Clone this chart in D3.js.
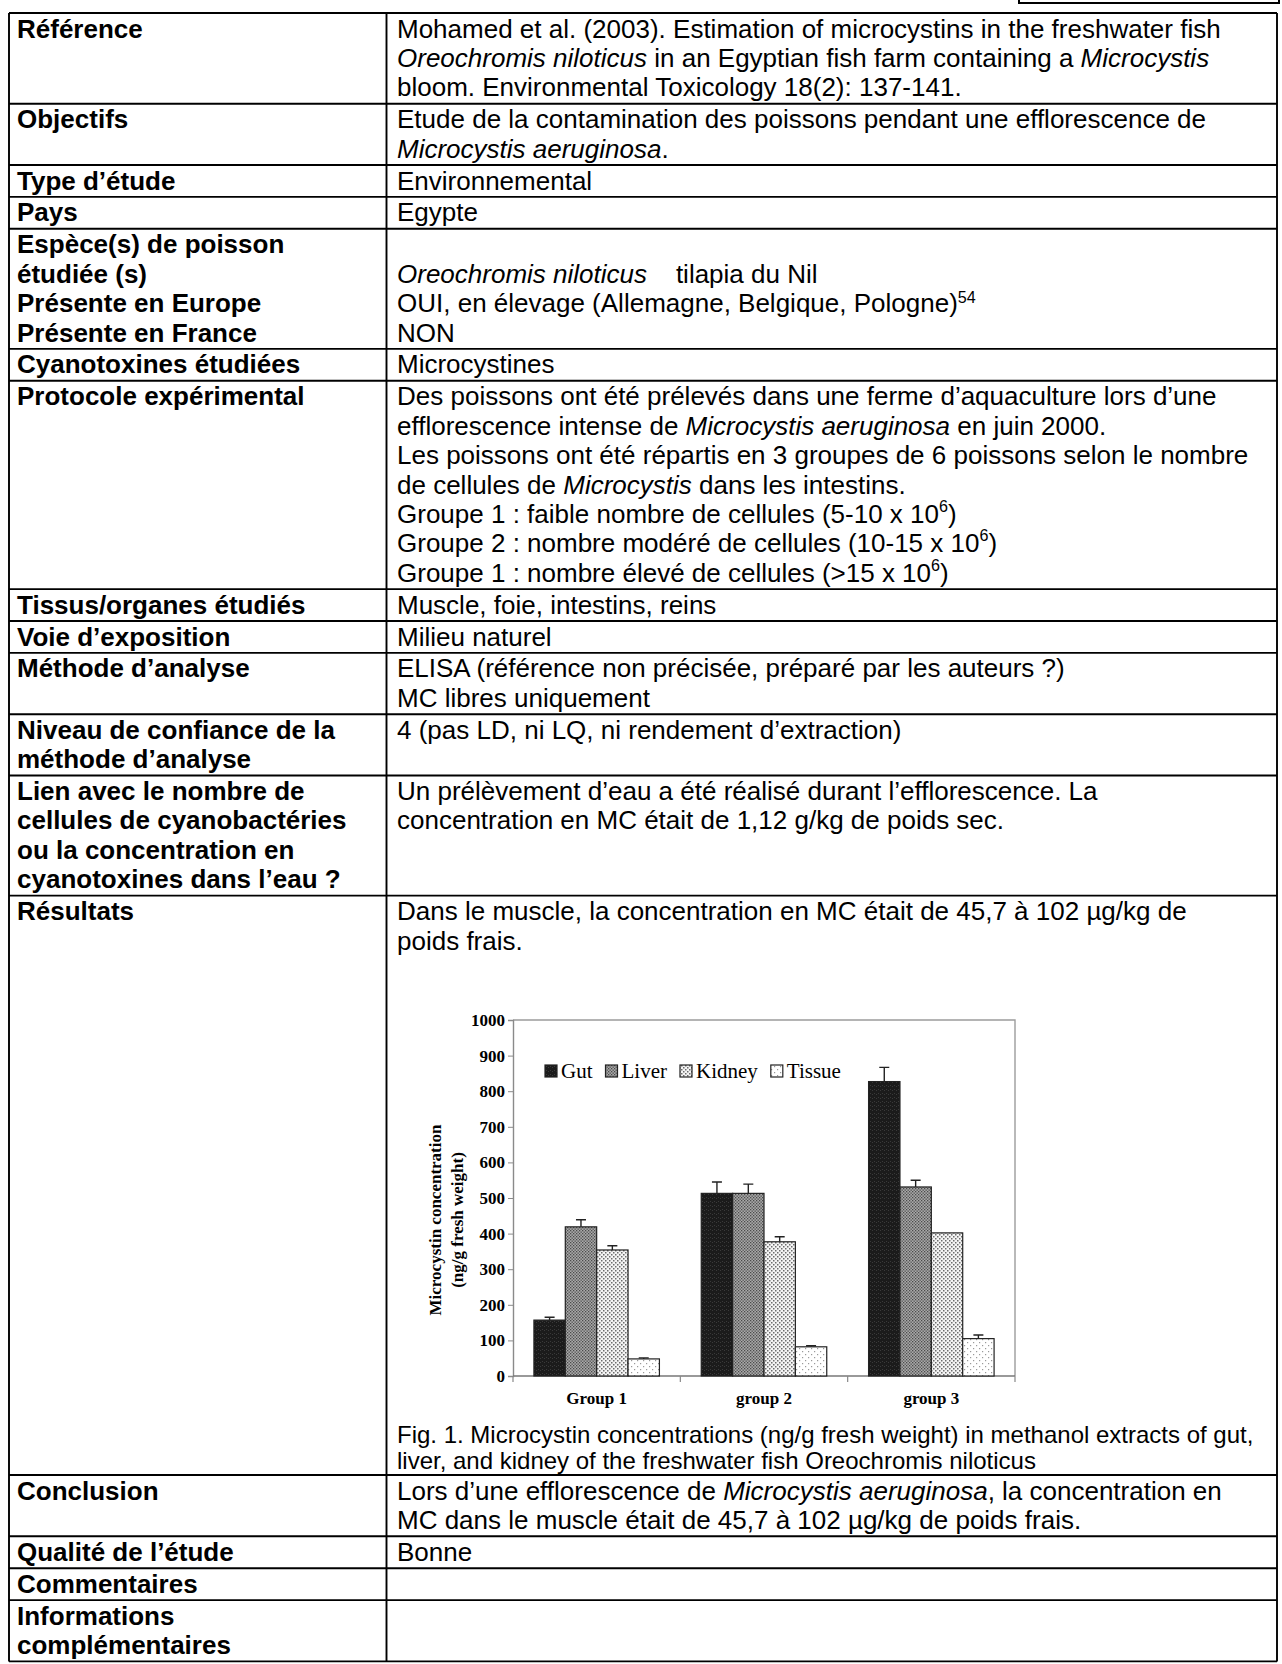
<!DOCTYPE html>
<html>
<head>
<meta charset="utf-8">
<script src="https://cdn.jsdelivr.net/npm/d3@7"></script>
<style>
  body { margin: 0; background: #fff; }
  text { font-family: "Liberation Sans", Arial, sans-serif; fill: #000; }
  .serif text, text.serif { font-family: "Liberation Serif", "Times New Roman", serif; }
</style>
</head>
<body>
<div id="page"></div>
<script>
// ---- table text ----
const rowLabels = [
  ["Référence"],
  ["Objectifs"],
  ["Type d’étude"],
  ["Pays"],
  ["Espèce(s) de poisson", "étudiée (s)", "Présente en Europe", "Présente en France"],
  ["Cyanotoxines étudiées"],
  ["Protocole expérimental"],
  ["Tissus/organes étudiés"],
  ["Voie d’exposition"],
  ["Méthode d’analyse"],
  ["Niveau de confiance de la", "méthode d’analyse"],
  ["Lien avec le nombre de", "cellules de cyanobactéries", "ou la concentration en", "cyanotoxines dans l’eau ?"],
  ["Résultats"],
  ["Conclusion"],
  ["Qualité de l’étude"],
  ["Commentaires"],
  ["Informations", "complémentaires"]
];

// _x_ = italic, ^x^ = superscript
const rowTexts = [
  ["Mohamed et al. (2003). Estimation of microcystins in the freshwater fish",
   "_Oreochromis niloticus_ in an Egyptian fish farm containing a _Microcystis_",
   "bloom. Environmental Toxicology 18(2): 137-141."],
  ["Etude de la contamination des poissons pendant une efflorescence de",
   "_Microcystis aeruginosa_."],
  ["Environnemental"],
  ["Egypte"],
  ["", "_Oreochromis niloticus_    tilapia du Nil",
   "OUI, en élevage (Allemagne, Belgique, Pologne)^54^", "NON"],
  ["Microcystines"],
  ["Des poissons ont été prélevés dans une ferme d’aquaculture lors d’une",
   "efflorescence intense de _Microcystis aeruginosa_ en juin 2000.",
   "Les poissons ont été répartis en 3 groupes de 6 poissons selon le nombre",
   "de cellules de _Microcystis_ dans les intestins.",
   "Groupe 1 : faible nombre de cellules (5-10 x 10^6^)",
   "Groupe 2 : nombre modéré de cellules (10-15 x 10^6^)",
   "Groupe 1 : nombre élevé de cellules (>15 x 10^6^)"],
  ["Muscle, foie, intestins, reins"],
  ["Milieu naturel"],
  ["ELISA (référence non précisée, préparé par les auteurs ?)", "MC libres uniquement"],
  ["4 (pas LD, ni LQ, ni rendement d’extraction)"],
  ["Un prélèvement d’eau a été réalisé durant l’efflorescence. La",
   "concentration en MC était de 1,12 g/kg de poids sec."],
  ["Dans le muscle, la concentration en MC était de 45,7 à 102 µg/kg de",
   "poids frais."],
  ["Lors d’une efflorescence de _Microcystis aeruginosa_, la concentration en",
   "MC dans le muscle était de 45,7 à 102 µg/kg de poids frais."],
  ["Bonne"],
  [""],
  [""]
];

const rowSizes = [3, 2, 1, 1, 4, 1, 7, 1, 1, 2, 2, 4, 2, 2, 1, 1, 2];
const resultsRow = 12;

const captionLines = [
  "Fig. 1. Microcystin concentrations (ng/g fresh weight) in methanol extracts of gut,",
  "liver, and kidney of the freshwater fish Oreochromis niloticus"
];

// ---- chart data ----
const groups = ["Group 1", "group 2", "group 3"];
const organs = ["Gut", "Liver", "Kidney", "Tissue"];
const gutValues = [157, 513, 827];
const liverValues = [419, 513, 531];
const kidneyValues = [354, 377, 402];
const tissueValues = [48, 82, 105];
const gutErrors = [8, 32, 40];
const liverErrors = [20, 26, 19];
const kidneyErrors = [12, 14, 0];
const tissueErrors = [3, 3, 10];
const yTicks = [0, 100, 200, 300, 400, 500, 600, 700, 800, 900, 1000];

// ---- layout ----
const W = 1282, H = 1664;
const TOP = 13, LINE = 29.4, PAD = 2.5, RESULT_H = 579.4, CHART_DY = 124.4;
const X0 = 9, XDIV = 386.5, X1 = 1277;
const FS = 26;

const svg = d3.select("#page")
    .append("svg")
    .attr("width", W)
    .attr("height", H);

function drawLine(g, x, y, str, size, bold) {
    let t = g.append("text")
        .attr("x", x)
        .attr("y", y)
        .attr("font-size", size)
        .attr("font-weight", bold ? "bold" : "normal")
        .style("white-space", "pre");
    let raised = 0;
    str.split(/(_[^_]*_|\^[^^]*\^)/).filter(s => s.length).forEach(s => {
        let span = t.append("tspan");
        if (s[0] === "_") {
            span.text(s.slice(1, -1)).attr("font-style", "italic");
            if (raised) { span.attr("dy", raised); raised = 0; }
        } else if (s[0] === "^") {
            let up = s.length > 3 ? size * 0.36 : size * 0.42;
            span.text(s.slice(1, -1)).attr("font-size", size * 0.62).attr("dy", -up);
            raised = up;
        } else {
            span.text(s);
            if (raised) { span.attr("dy", raised); raised = 0; }
        }
    });
}

// row tops
let tops = [];
let yy = TOP;
rowSizes.forEach((n, i) => {
    tops.push(yy);
    yy += i === resultsRow ? RESULT_H : n * LINE + PAD;
});
tops.push(yy);

const table = svg.append("g");

rowLabels.forEach((lines, i) => {
    lines.forEach((s, k) => drawLine(table, 17, tops[i] + 24.5 + k * LINE, s, FS, true));
    rowTexts[i].forEach((s, k) => drawLine(table, 397, tops[i] + 24.5 + k * LINE, s, FS, false));
});

// caption under the figure
captionLines.forEach((s, k) => drawLine(table, 397, tops[resultsRow + 1] - 32 + k * 26, s, 24, false));

// borders
table.selectAll("line.h")
    .data(tops)
    .join("line")
    .attr("class", "h")
    .attr("x1", X0).attr("x2", X1)
    .attr("y1", d => d).attr("y2", d => d)
    .attr("stroke", "#000").attr("stroke-width", 1.9);

table.selectAll("line.v")
    .data([X0, XDIV, X1])
    .join("line")
    .attr("class", "v")
    .attr("x1", d => d).attr("x2", d => d)
    .attr("y1", TOP).attr("y2", tops[tops.length - 1])
    .attr("stroke", "#000").attr("stroke-width", 1.9);

// small box in the top right corner
svg.append("rect")
    .attr("x", 1019).attr("y", -10)
    .attr("width", 260).attr("height", 13)
    .attr("fill", "none").attr("stroke", "#000").attr("stroke-width", 2);

// ---- figure ----
const defs = svg.append("defs");

function pattern(id, size, bg, dots, color) {
    let p = defs.append("pattern")
        .attr("id", id)
        .attr("patternUnits", "userSpaceOnUse")
        .attr("width", size).attr("height", size);
    p.append("rect").attr("width", size).attr("height", size).attr("fill", bg);
    dots.forEach(d => p.append("rect")
        .attr("x", d[0]).attr("y", d[1]).attr("width", d[2]).attr("height", d[2])
        .attr("fill", color));
}
pattern("p-gut", 4, "#1b1b1b", [[1, 1, 1], [3, 2, 1]], "#3a3a3a");
pattern("p-liver", 3, "#a9a9a9", [[0, 0, 1.3], [1.5, 1.5, 1.3]], "#4a4a4a");
pattern("p-kidney", 4, "#f4f4f4", [[0, 0, 1.5], [2, 2, 1.5]], "#6c6c6c");
pattern("p-tissue", 6, "#ffffff", [[1, 1, 1.2], [4, 4, 1.2]], "#9a9a9a");
const fills = ["url(#p-gut)", "url(#p-liver)", "url(#p-kidney)", "url(#p-tissue)"];

const series = organs.map((o, k) => ({
    organ: o,
    fill: fills[k],
    values: [gutValues, liverValues, kidneyValues, tissueValues][k],
    errors: [gutErrors, liverErrors, kidneyErrors, tissueErrors][k]
}));

const plotW = 502, plotH = 356;
const chart = svg.append("g")
    .attr("class", "serif")
    .attr("transform", `translate(513,${tops[resultsRow] + CHART_DY})`);

const x0 = d3.scaleBand().domain(groups).range([0, plotW]).paddingInner(0.25).paddingOuter(0.125);
const x1 = d3.scaleBand().domain(organs).range([0, x0.bandwidth()]);
const y = d3.scaleLinear().domain([0, 1000]).range([plotH, 0]);

// frame
chart.append("path")
    .attr("d", `M0,0H${plotW}V${plotH}`)
    .attr("fill", "none").attr("stroke", "#9c9c9c").attr("stroke-width", 1.4);

const yAxis = chart.append("g")
    .call(d3.axisLeft(y).tickValues(yTicks).tickSize(5).tickPadding(3).tickFormat(d3.format("d")));
yAxis.select(".domain").attr("stroke", "#8a8a8a").attr("stroke-width", 1.4);
yAxis.selectAll(".tick line").attr("stroke", "#8a8a8a");
yAxis.selectAll(".tick text")
    .attr("font-size", 17).attr("font-weight", "bold").attr("fill", "#222");

// bottom axis with ticks at group boundaries
chart.append("line")
    .attr("x1", 0).attr("x2", plotW)
    .attr("y1", y(0)).attr("y2", y(0))
    .attr("stroke", "#777").attr("stroke-width", 1.4);
chart.selectAll("line.xt")
    .data([0, 1, 2, 3])
    .join("line")
    .attr("class", "xt")
    .attr("x1", d => d * x0.step()).attr("x2", d => d * x0.step())
    .attr("y1", y(0)).attr("y2", y(0) + 6)
    .attr("stroke", "#888").attr("stroke-width", 1.2);

chart.selectAll("text.grp")
    .data(groups)
    .join("text")
    .attr("class", "grp")
    .attr("x", d => x0(d) + x0.bandwidth() / 2)
    .attr("y", y(0) + 28)
    .attr("text-anchor", "middle")
    .attr("font-size", 17).attr("font-weight", "bold").attr("fill", "#222")
    .text(d => d);

// bars
const sg = chart.selectAll("g.series")
    .data(series)
    .join("g")
    .attr("class", "series");

sg.selectAll("rect")
    .data(s => groups.map((g, i) => ({ g: g, organ: s.organ, v: s.values[i], fill: s.fill })))
    .join("rect")
    .attr("x", d => x0(d.g) + x1(d.organ))
    .attr("y", d => y(d.v))
    .attr("width", x1.bandwidth())
    .attr("height", d => y(0) - y(d.v))
    .attr("fill", d => d.fill)
    .attr("stroke", "#222").attr("stroke-width", 1.2);

// error bars
sg.selectAll("path.err")
    .data(s => groups.map((g, i) => ({ g: g, organ: s.organ, v: s.values[i], e: s.errors[i] })).filter(d => d.e > 0))
    .join("path")
    .attr("class", "err")
    .attr("d", d => {
        let cx = x0(d.g) + x1(d.organ) + x1.bandwidth() / 2;
        return `M${cx},${y(d.v)}V${y(d.v + d.e)}M${cx - 5},${y(d.v + d.e)}H${cx + 5}`;
    })
    .attr("fill", "none").attr("stroke", "#222").attr("stroke-width", 1.4);

// legend
const legend = chart.append("g").attr("transform", "translate(32,45)");
let lx = 0;
series.forEach(s => {
    legend.append("rect")
        .attr("x", lx).attr("y", 0).attr("width", 12).attr("height", 12)
        .attr("fill", s.fill).attr("stroke", "#222").attr("stroke-width", 1.2);
    let t = legend.append("text")
        .attr("x", lx + 16).attr("y", 13)
        .attr("font-size", 21).attr("fill", "#222")
        .text(s.organ);
    lx += 16 + t.node().getComputedTextLength() + 13;
});

// y title
const yTitle = ["Microcystin concentration", "(ng/g fresh weight)"];
chart.selectAll("text.yt")
    .data(yTitle)
    .join("text")
    .attr("class", "yt")
    .attr("transform", (d, i) => `translate(${-72 + i * 22},${plotH / 2 + 22}) rotate(-90)`)
    .attr("text-anchor", "middle")
    .attr("font-size", 17).attr("font-weight", "bold").attr("fill", "#222")
    .text(d => d);
</script>
</body>
</html>
